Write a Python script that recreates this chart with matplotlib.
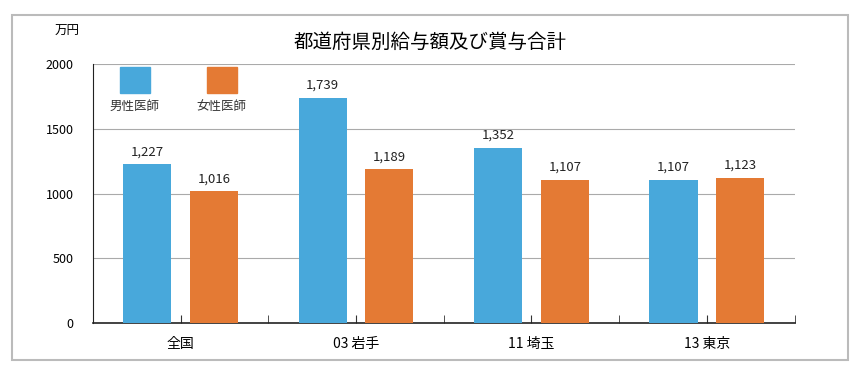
import numpy as np
import matplotlib.pyplot as plt
from matplotlib.patches import Rectangle

plt.rcParams['font.family'] = ['Noto Sans CJK JP', 'DejaVu Sans']

# data
categories = ['全国', '03 岩手', '11 埼玉', '13 東京']
male = [1227, 1739, 1352, 1107]
female = [1016, 1189, 1107, 1123]
series_names = ['男性医師', '女性医師']
colors = ['#48A8DB', '#E47A34']
yticks = [0, 500, 1000, 1500, 2000]

fig = plt.figure(figsize=(8.6, 3.7), dpi=100)
ax = fig.add_axes([0.108, 0.127, 0.816, 0.70])

# outer frame
fig.patches.append(Rectangle((0.014, 0.027), 0.972, 0.932, transform=fig.transFigure,
                             fill=False, edgecolor='#BBBBBB', linewidth=1.5))

x = np.arange(len(categories))
off = 0.19
w = 0.275
b1 = ax.bar(x - off, male, w, color=colors[0], zorder=3)
b2 = ax.bar(x + off, female, w, color=colors[1], zorder=3)

for bars, vals in [(b1, male), (b2, female)]:
    for b, v in zip(bars, vals):
        ax.text(b.get_x() + b.get_width() / 2, v + 45, f'{v:,}',
                ha='center', va='bottom', fontsize=9.5, color='#222222')

ax.set_xlim(-0.5, len(categories) - 0.5)
ax.set_ylim(0, 2000)
ax.set_yticks(yticks)
ax.set_yticklabels([str(t) for t in yticks], fontsize=9)
ax.tick_params(axis='y', length=0, pad=14)
ax.yaxis.grid(True, color='#AAAAAA', linewidth=0.8, zorder=0)

ax.set_xticks(x)
ax.set_xticklabels(categories, fontsize=10)
ax.set_xticks(np.arange(-0.5, len(categories), 1.0), minor=True)
ax.tick_params(axis='x', which='both', direction='in', length=6, color='#333333', pad=10)

for s in ['top', 'right']:
    ax.spines[s].set_visible(False)
ax.spines['left'].set_color('#222222')
ax.spines['bottom'].set_color('#222222')
ax.spines['bottom'].set_linewidth(1.2)

# legend: square above label
for i, (name, c) in enumerate(zip(series_names, colors)):
    x0 = 0.038 + i * 0.124
    ax.add_patch(Rectangle((x0, 0.888), 0.043, 0.1, transform=ax.transAxes,
                           color=c, clip_on=False, zorder=4))
    ax.text(x0 + 0.0215, 0.86, name, transform=ax.transAxes, ha='center', va='top',
            fontsize=9, color='#333333')

fig.text(0.064, 0.915, '万円', fontsize=9, ha='left', va='center')
fig.text(0.5, 0.886, '都道府県別給与額及び賞与合計', fontsize=14, ha='center', va='center')

fig.savefig('out.png', dpi=100)
